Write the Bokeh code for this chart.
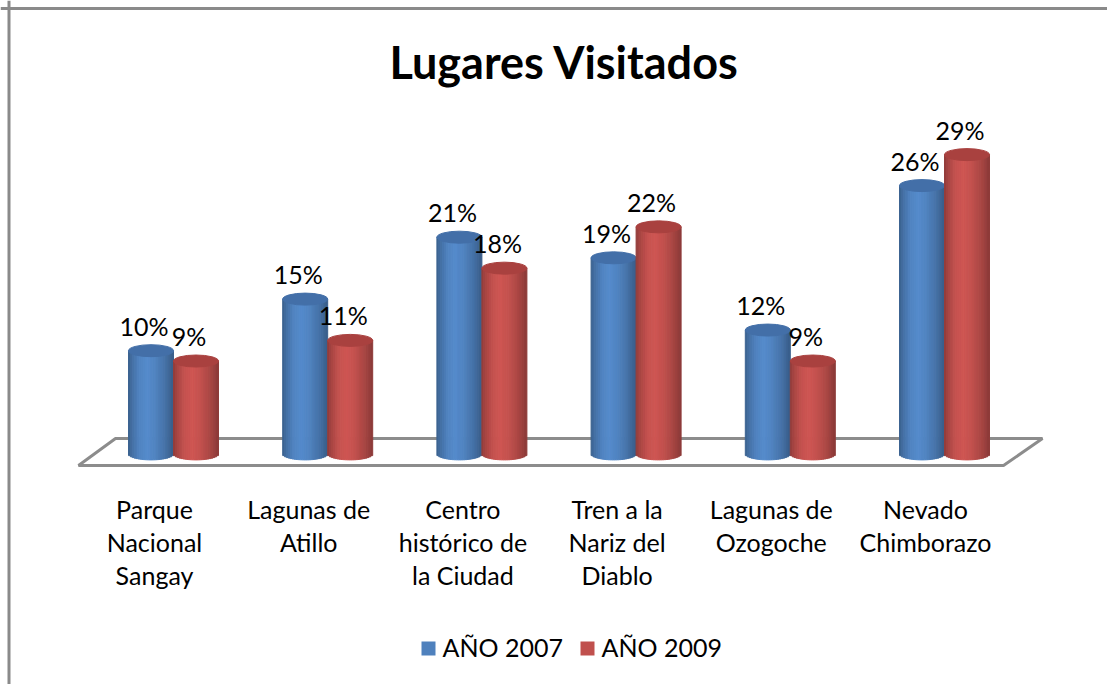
import numpy as np
from bokeh.plotting import figure
from bokeh.models import Range1d, Span
from bokeh.core.properties import value
from bokeh.embed import file_html
from bokeh.resources import INLINE

# ---------------- data ----------------
title_text = "Lugares Visitados"
categories = [
    "Parque\nNacional\nSangay",
    "Lagunas de\nAtillo",
    "Centro\nhistórico de\nla Ciudad",
    "Tren a la\nNariz del\nDiablo",
    "Lagunas de\nOzogoche",
    "Nevado\nChimborazo",
]
series_names = ["AÑO 2007", "AÑO 2009"]
values_2007 = [10, 15, 21, 19, 12, 26]
values_2009 = [9, 11, 18, 22, 9, 29]
series_colors = [(79, 129, 189), (192, 80, 77)]
top_colors = ["#436fa8", "#a9413f"]

# ---------------- layout ----------------
W, H = 1107, 684
X0_PX, X_STEP = 173.0, 154.2     # px of category 0, px per category
Y0_PX, Y_STEP = 453.4, 10.32     # px of value 0, px per percent

def xc(px):
    return (px - X0_PX) / X_STEP

def yc(py):
    return (Y0_PX - py) / Y_STEP

BW = 45.0 / X_STEP          # cylinder width
E = 6.0 / Y_STEP            # ellipse half height
FONT = value("Lato")
SHIFT_S = 11                # baseline correction, 25px text
SHIFT_T = 16                # baseline correction, title

p = figure(width=W, height=H, output_backend="svg", toolbar_location=None,
           x_range=Range1d(xc(0), xc(W)), y_range=Range1d(yc(H), yc(0)),
           x_axis_type=None, y_axis_type=None, min_border=0)
p.grid.visible = False
p.outline_line_color = None
p.background_fill_color = "white"
p.border_fill_color = "white"

# border (top & left)
p.add_layout(Span(location=yc(8), dimension="width",
                  line_color="#8a8a8a", line_width=3))
p.add_layout(Span(location=xc(8.5), dimension="height",
                  line_color="#8a8a8a", line_width=3))

# floor
floor_x = [xc(78), xc(115), xc(1042), xc(1003)]
floor_y = [yc(465), yc(438), yc(438), yc(465)]
p.patch(floor_x, floor_y, fill_color="white", line_color="#8c8c8c", line_width=3)

# cylinders
N = 24
prof_t = [0, 0.08, 0.25, 0.42, 0.6, 0.8, 0.92, 1.0]
prof_f = [0.74, 0.86, 1.02, 1.08, 1.02, 0.9, 0.8, 0.72]

def shade(base, f):
    c = np.clip(np.array(base) * f, 0, 255).astype(int)
    return "#%02x%02x%02x" % tuple(c)

offsets = [-BW / 2, BW / 2]
all_values = [values_2007, values_2009]
for s, vals in enumerate(all_values):
    xs, widths, tops, bottoms, cols = [], [], [], [], []
    for i, v in enumerate(vals):
        cx = i + offsets[s]
        for k in range(N):
            u = -1 + (2 * k + 1) / N
            t = (k + 0.5) / N
            xs.append(cx + u * BW / 2)
            widths.append(BW / N)
            tops.append(v)
            bottoms.append(-E * np.sqrt(max(0.0, 1 - u * u)))
            cols.append(shade(series_colors[s], np.interp(t, prof_t, prof_f)))
    p.vbar(x=xs, width=widths, top=tops, bottom=bottoms,
           fill_color=cols, line_color=cols, line_width=1)
    p.ellipse(x=[i + offsets[s] for i in range(len(vals))], y=vals,
              width=BW, height=2 * E, fill_color=top_colors[s],
              line_color=top_colors[s], line_width=1)
    # data labels
    p.text(x=[i + offsets[s] - 7 / X_STEP for i in range(len(vals))],
           y=[v + (14 + SHIFT_S) / Y_STEP for v in vals],
           text=["%d%%" % v for v in vals],
           text_font=FONT, text_font_size="25px", text_align="center",
           text_baseline="alphabetic", text_color="black")

# category labels
for i, cat in enumerate(categories):
    for j, line in enumerate(cat.split("\n")):
        p.text(x=[i - 19 / X_STEP], y=[yc(519 + 33 * j - SHIFT_S)], text=[line],
               text_font=FONT, text_font_size="25px", text_align="center",
               text_baseline="alphabetic", text_color="black")

# title
p.text(x=[xc(564)], y=[yc(77 - SHIFT_T)], text=[title_text], text_font=FONT,
       text_font_style="bold", text_font_size="45px", text_align="center",
       text_baseline="alphabetic", text_color="black")

# legend
leg_sq_x = [428, 587]
leg_tx_x = [442, 601]
for s in range(2):
    p.rect(x=[xc(leg_sq_x[s])], y=[yc(648)], width=14, height=14,
           width_units="screen", height_units="screen",
           fill_color=shade(series_colors[s], 1.0), line_color=None)
    p.text(x=[xc(leg_tx_x[s])], y=[yc(657 - SHIFT_S)], text=[series_names[s]],
           text_font=FONT, text_font_size="25px", text_align="left",
           text_baseline="alphabetic", text_color="black")

open("out.html", "w").write(file_html(p, INLINE))
